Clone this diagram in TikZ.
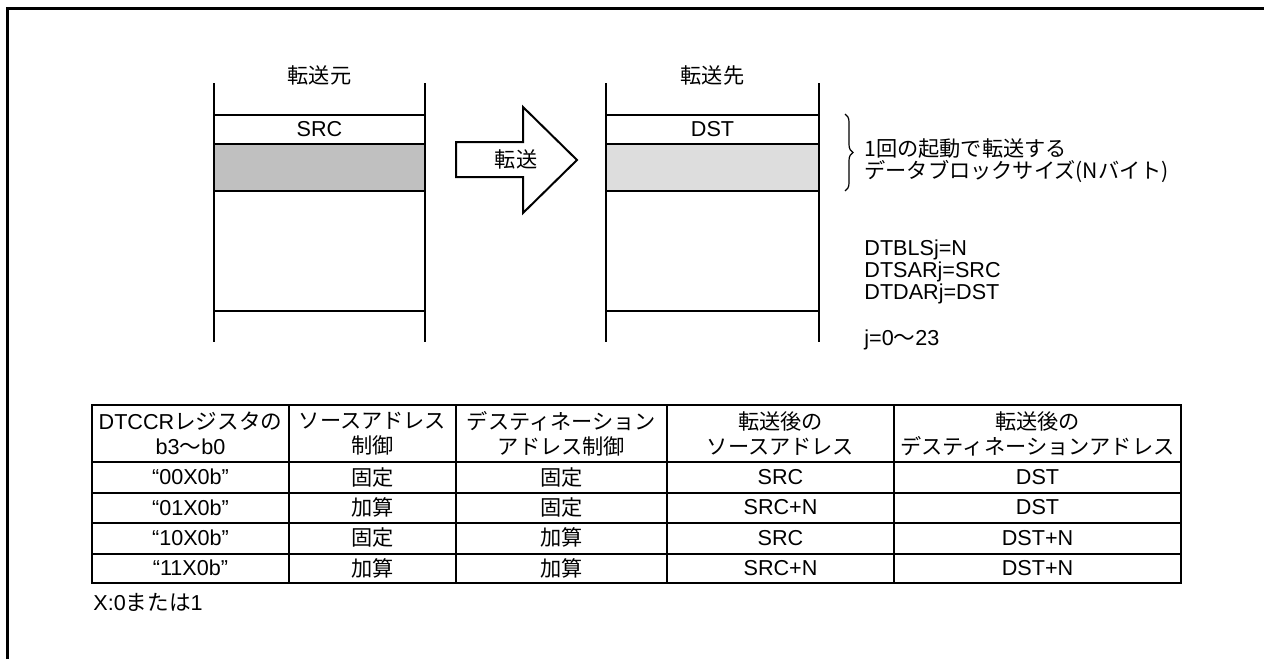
\documentclass[tikz,border=0pt]{standalone}
\usepackage{fontspec}
\setmainfont{Liberation Sans}
\newfontfamily\jp{Noto Sans CJK JP}
\usetikzlibrary{decorations.pathreplacing}
\definecolor{srcgray}{RGB}{192,192,192}
\definecolor{dstgray}{RGB}{221,221,221}
\tikzset{
  memline/.style={line width=1pt},
  tblline/.style={line width=1pt},
  txt/.style={inner sep=0pt, align=center},
  jptxt/.style={txt, font=\jp\fontsize{10.6}{12.5}\selectfont},
  lefttxt/.style={inner sep=0pt, anchor=west, align=left}
}
\begin{document}
\begin{tikzpicture}[x=0.5pt, y=-0.5pt, font=\fontsize{10.8}{12.5}\selectfont]
  \useasboundingbox (0,0) rectangle (1264,659);
  % outer frame (runs off the page)
  \draw[line width=1.5pt] (7,659) -- (7,8) -- (1264,8);

  % memory blocks
  \foreach \xa/\xb/\col in {214/425/srcgray, 606/819/dstgray} {
    \fill[\col] (\xa,144) rectangle (\xb,191);
    \draw[memline] (\xa,83) -- (\xa,342);
    \draw[memline] (\xb,83) -- (\xb,342);
    \foreach \y in {115,144,191,311}
      \draw[memline] (\xa,\y) -- (\xb,\y);
  }
  \node[jptxt] (srctitle) at (319.5,75) {転送元};
  \node[txt] (src) at (319.5,129) {SRC};
  \node[jptxt] (dsttitle) at (712.5,75) {転送先};
  \node[txt] (dst) at (712.5,129) {DST};

  % transfer arrow
  \draw[memline, line join=miter, fill=white]
    (456,142) -- (523,142) -- (523,107) -- (577,160) -- (523,213) -- (523,177) -- (456,177) -- cycle;
  \node[jptxt] (xfer) at (516,159) {転送};

  % brace and notes
  \coordinate (bt) at (845,114);
  \coordinate (bb) at (845,191);
  \draw[line width=0.6pt, decorate, decoration={brace, amplitude=4pt}] (bt) -- (bb);
  \node[lefttxt, font=\jp\fontsize{10.6}{8}\selectfont] (blksize) at (864,161)
    {1回の起動で転送する\\データブロックサイズ(Nバイト)};
  \node[lefttxt, font=\fontsize{10.8}{9.5}\selectfont] (regs) at (864,272)
    {DTBLSj=N\\DTSARj=SRC\\DTDARj=DST};
  \node[lefttxt] (jrange) at (864,340) {j=0{\jp 〜}23};

  % table
  \draw[tblline] (92,405) rectangle (1181,583);
  \foreach \x in {289,456,667,894}
    \draw[tblline] (\x,405) -- (\x,583);
  \foreach \y in {462,492.5,523,553.5}
    \draw[tblline] (92,\y) -- (1181,\y);

  \node[txt] (h1) at (190.5,433.5) {DTCCR{\jp レジスタの}\\b3{\jp 〜}b0};
  \node[jptxt] (h2) at (372.5,433.5) {ソースアドレス\\制御};
  \node[jptxt] (h3) at (561.5,433.5) {デスティネーション\\アドレス制御};
  \node[jptxt] (h4) at (780.5,433.5) {転送後の\\ソースアドレス};
  \node[jptxt] (h5) at (1037.5,433.5) {転送後の\\デスティネーションアドレス};

  \foreach \code/\sc/\dc/\sa/\da [count=\i] in {
      00X0b/固定/固定/SRC/DST,
      01X0b/加算/固定/SRC+N/DST,
      10X0b/固定/加算/SRC/DST+N,
      11X0b/加算/加算/SRC+N/DST+N} {
    \node[txt] (code\i) at (190.5,447+30.25*\i) {“\code”};
    \node[jptxt] (sctl\i) at (372.5,447+30.25*\i) {\sc};
    \node[jptxt] (dctl\i) at (561.5,447+30.25*\i) {\dc};
    \node[txt] (sadr\i) at (780.5,447+30.25*\i) {\sa};
    \node[txt] (dadr\i) at (1037.5,447+30.25*\i) {\da};
  }
  \node[lefttxt] (note) at (93,602) {X:0{\jp または}1};
\end{tikzpicture}
\end{document}
